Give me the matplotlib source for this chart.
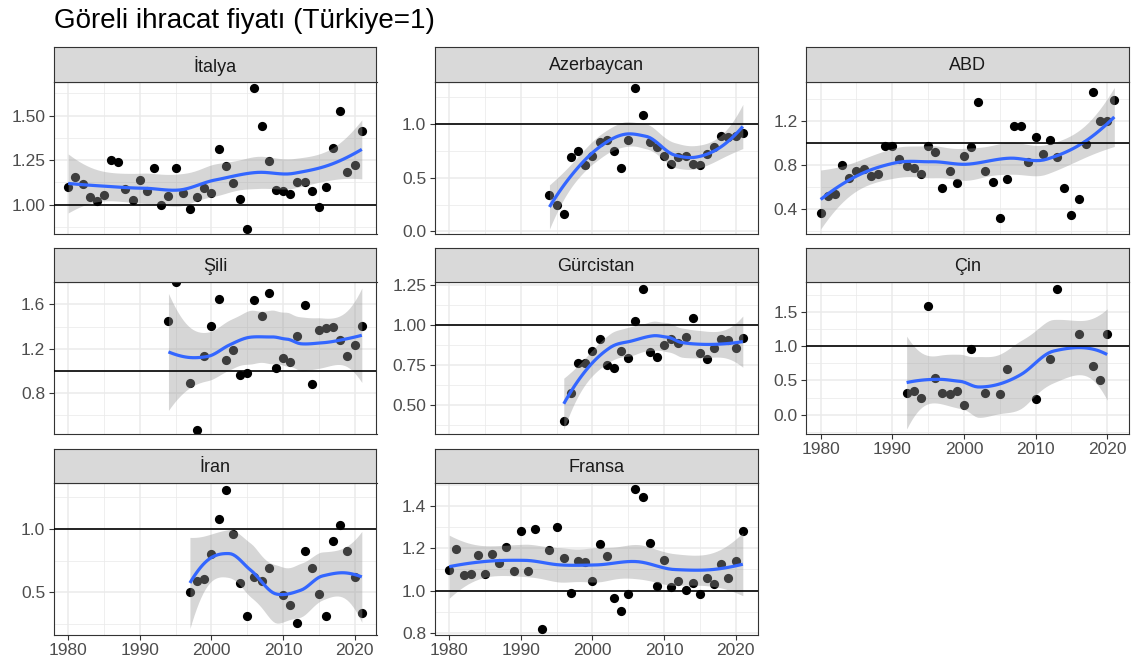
import numpy as np
import matplotlib
matplotlib.use("Agg")
import matplotlib.pyplot as plt

plt.rcParams['font.family'] = ['Liberation Sans', 'DejaVu Sans']

# ---------------- data ----------------
italya_years = list(range(1980, 2022))
italya_vals = [1.10, 1.156, 1.117, 1.043, 1.023, 1.056, 1.252, 1.239, 1.09, 1.026,
               1.139, 1.079, 1.205, 1.00, 1.05, 1.205, 1.066, 0.976, 1.041, 1.094,
               1.068, 1.312, 1.22, 1.12, 1.032, 0.867, 1.656, 1.444, 1.246, 1.083,
               1.079, 1.062, 1.128, 1.128, 1.077, 0.985, 1.10, 1.321, 1.524, 1.186,
               1.224, 1.415]

azerbaycan_years = list(range(1994, 2022))
azerbaycan_vals = [0.338, 0.25, 0.166, 0.69, 0.75, 0.616, 0.703, 0.831, 0.853, 0.75,
                   0.59, 0.847, 1.338, 1.084, 0.828, 0.784, 0.70, 0.625, 0.69, 0.70,
                   0.628, 0.619, 0.722, 0.79, 0.884, 0.878, 0.89, 0.92]

abd_years = list(range(1980, 2022))
abd_vals = [0.357, 0.516, 0.538, 0.795, 0.679, 0.743, 0.765, 0.70, 0.719, 0.967,
            0.97, 0.85, 0.786, 0.771, 0.713, 0.97, 0.912, 0.587, 0.74, 0.636,
            0.884, 0.964, 1.369, 0.74, 0.645, 0.32, 0.673, 1.154, 1.154, 0.823,
            1.056, 0.90, 1.022, 0.875, 0.593, 0.345, 0.486, 0.99, 1.46, 1.194,
            1.197, 1.39]

# 1995 value is infinite: drawn on the panel edge, ignored by the smoother
sili_years = [1994, 1995, 1997, 1998, 1999, 2000, 2001, 2002, 2003, 2004, 2005,
              2006, 2007, 2008, 2009, 2010, 2011, 2012, 2013, 2014, 2015, 2016,
              2017, 2018, 2019, 2020, 2021]
sili_vals = [1.448, np.inf, 0.891, 0.468, 1.13, 1.402, 1.652, 1.095, 1.189, 0.961,
             0.976, 1.64, 1.494, 1.703, 1.028, 1.113, 1.077, 1.311, 1.597, 0.876,
             1.366, 1.39, 1.393, 1.278, 1.135, 1.232, 1.402]

gurcistan_years = list(range(1996, 2022))
gurcistan_vals = [0.402, 0.575, 0.761, 0.761, 0.834, 0.912, 0.749, 0.73, 0.834, 0.795,
                  1.024, 1.225, 0.828, 0.797, 0.876, 0.912, 0.886, 0.926, 1.039, 0.822,
                  0.784, 0.853, 0.914, 0.905, 0.855, 0.916]

cin_years = [1992, 1993, 1994, 1995, 1996, 1997, 1998, 1999, 2000, 2001, 2003,
             2005, 2006, 2010, 2012, 2013, 2016, 2018, 2019, 2020]
cin_vals = [0.318, 0.347, 0.249, 1.579, 0.538, 0.318, 0.298, 0.352, 0.147, 0.963,
            0.313, 0.303, 0.66, 0.235, 0.811, 1.838, 1.183, 0.714, 0.499, 1.183]

iran_years = [1997, 1998, 1999, 2000, 2001, 2002, 2003, 2004, 2005, 2006, 2007,
              2008, 2010, 2011, 2012, 2013, 2014, 2015, 2016, 2017, 2018, 2019,
              2020, 2021]
iran_vals = [0.50, 0.586, 0.605, 0.798, 1.076, 1.309, 0.958, 0.576, 0.312, 0.62,
             0.589, 0.691, 0.476, 0.403, 0.262, 0.827, 0.688, 0.487, 0.312, 0.903,
             1.031, 0.827, 0.623, 0.34]

fransa_years = list(range(1980, 2022))
fransa_vals = [1.099, 1.194, 1.075, 1.08, 1.166, 1.077, 1.174, 1.128, 1.205, 1.094,
               1.282, 1.092, 1.293, 0.819, 1.193, 1.30, 1.152, 0.989, 1.139, 1.135,
               1.047, 1.218, 1.164, 0.963, 0.905, 0.984, 1.479, 1.443, 1.224, 1.022,
               1.142, 1.018, 1.045, 1.003, 1.037, 0.982, 1.058, 1.029, 1.124, 1.061,
               1.138, 1.282]

title = "Göreli ihracat fiyatı (Türkiye=1)"
x_ticks = [1980, 1990, 2000, 2010, 2020]

# name, years, values, ylim, yticks, fmt, col, row, show x axis
panels = [
    ("İtalya", italya_years, italya_vals, (0.838, 1.69), [1.0, 1.25, 1.5], "%.2f", 0, 0, False),
    ("Azerbaycan", azerbaycan_years, azerbaycan_vals, (-0.022, 1.394), [0.0, 0.5, 1.0], "%.1f", 1, 0, False),
    ("ABD", abd_years, abd_vals, (0.173, 1.556), [0.4, 0.8, 1.2], "%.1f", 2, 0, False),
    ("Şili", sili_years, sili_vals, (0.429, 1.804), [0.8, 1.2, 1.6], "%.1f", 0, 1, False),
    ("Gürcistan", gurcistan_years, gurcistan_vals, (0.32, 1.267), [0.5, 0.75, 1.0, 1.25], "%.2f", 1, 1, False),
    ("Çin", cin_years, cin_vals, (-0.279, 1.935), [0.0, 0.5, 1.0, 1.5], "%.1f", 2, 1, True),
    ("İran", iran_years, iran_vals, (0.165, 1.361), [0.5, 1.0], "%.1f", 0, 2, True),
    ("Fransa", fransa_years, fransa_vals, (0.79, 1.509), [0.8, 1.0, 1.2, 1.4], "%.1f", 1, 2, True),
]


# ---------------- loess (span .75, degree 2, kd-tree interpolation) ----------------
def t_quantile(df, z=1.959963985):
    v = df
    g1 = (z**3 + z) / 4
    g2 = (5 * z**5 + 16 * z**3 + 3 * z) / 96
    g3 = (3 * z**7 + 19 * z**5 + 17 * z**3 - 15 * z) / 384
    g4 = (79 * z**9 + 776 * z**7 + 1482 * z**5 - 1920 * z**3 - 945 * z) / 92160
    return z + g1 / v + g2 / v**2 + g3 / v**3 + g4 / v**4


def loess(x, y, xs, span=0.75, cell=0.2):
    x = np.asarray(x, float)
    y = np.asarray(y, float)
    n = len(x)
    q = int(np.floor(n * span))

    def local(x0):
        d = np.abs(x - x0)
        h = np.sort(d)[q - 1]
        w = np.clip(1 - (d / h) ** 3, 0, None) ** 3
        dx = x - x0
        X = np.column_stack([np.ones(n), dx, dx**2])
        XtW = X.T * w
        B = np.linalg.solve(XtW @ X, XtW)
        return B[0], B[1]

    xmin, xmax = x.min(), x.max()
    mu = 0.005 * (xmax - xmin)
    lo_b, hi_b = xmin - mu, xmax + mu
    verts = {lo_b, hi_b}
    fc = int(np.floor(n * span * cell))

    def split(pts, a, b):
        k = len(pts)
        if k <= fc:
            return
        m = (1 + k) // 2
        sv = 0.5 * (pts[m - 1] + pts[m])
        if sv <= a or sv >= b:
            return
        verts.add(sv)
        split(pts[:m], a, sv)
        split(pts[m:], sv, b)

    split(np.sort(x), lo_b, hi_b)
    V = np.array(sorted(verts))
    L0, L1 = zip(*[local(v) for v in V])
    L0 = np.array(L0)
    L1 = np.array(L1)

    def lrow(x0):
        j = int(np.clip(np.searchsorted(V, x0, side="right") - 1, 0, len(V) - 2))
        v0, v1 = V[j], V[j + 1]
        h = v1 - v0
        u = (x0 - v0) / h
        phi0 = (1 - u) ** 2 * (1 + 2 * u)
        phi1 = u**2 * (3 - 2 * u)
        psi0 = u * (1 - u) ** 2
        psi1 = -(u**2) * (1 - u)
        return phi0 * L0[j] + phi1 * L0[j + 1] + h * (psi0 * L1[j] + psi1 * L1[j + 1])

    Lfit = np.array([lrow(v) for v in x])
    Lpred = np.array([lrow(v) for v in xs])
    yhat = Lpred @ y
    R = np.eye(n) - Lfit
    M = R.T @ R
    d1 = np.trace(M)
    d2 = np.trace(M @ M)
    res = y - Lfit @ y
    s = np.sqrt(np.sum(res**2) / d1)
    se = s * np.sqrt(np.sum(Lpred**2, axis=1))
    t = t_quantile(d1**2 / d2)
    return yhat, yhat - t * se, yhat + t * se


# ---------------- layout ----------------
W, H = 1136, 666
fig = plt.figure(figsize=(W / 100, H / 100), dpi=100)

col_left = [53.5, 434.5, 806.0]
panel_w = 323.0
strip_top = [47.3, 247.5, 448.5]
strip_h = 34.4
panel_h = 152.0

XLIM = (1977.95, 2023.05)
grid_c = "#EBEBEB"
border_c = "#333333"

for name, yrs, vals, ylim, yt, fmt, c, r, showx in panels:
    left = col_left[c]
    stop = strip_top[r]
    ptop = stop + strip_h
    ax = fig.add_axes([left / W, 1 - (ptop + panel_h) / H, panel_w / W, panel_h / H])
    sax = fig.add_axes([left / W, 1 - ptop / H, panel_w / W, strip_h / H])

    # strip
    sax.set_facecolor("#D9D9D9")
    sax.set_xticks([])
    sax.set_yticks([])
    for sp in sax.spines.values():
        sp.set_color(border_c)
        sp.set_linewidth(0.8)
    sax.text(0.5, 0.46, name, transform=sax.transAxes, ha="center", va="center",
             fontsize=13, color="#1A1A1A")

    # panel
    ax.set_xlim(*XLIM)
    ax.set_ylim(*ylim)
    ax.set_xticks(x_ticks)
    ax.set_xticks([1985, 1995, 2005, 2015], minor=True)
    step = yt[1] - yt[0]
    ymin = [v for v in np.arange(yt[0] - step / 2, yt[-1] + step, step) if ylim[0] <= v <= ylim[1]]
    ax.set_yticks(yt)
    ax.set_yticks(ymin, minor=True)
    ax.yaxis.set_major_formatter(matplotlib.ticker.FormatStrFormatter(fmt))
    ax.grid(which="major", color=grid_c, linewidth=1.1, zorder=0)
    ax.grid(which="minor", color=grid_c, linewidth=0.55, zorder=0)
    ax.set_axisbelow(True)
    ax.tick_params(which="minor", length=0)
    ax.tick_params(which="major", length=3.5, width=0.8, color=border_c,
                   labelsize=12.5, labelcolor="#4D4D4D", pad=2.5)
    if not showx:
        ax.tick_params(axis="x", which="both", length=0, labelbottom=False)
    for sp in ax.spines.values():
        sp.set_color(border_c)
        sp.set_linewidth(0.8)

    yrs_a = np.asarray(yrs, float)
    vals_a = np.asarray(vals, float)
    fin = np.isfinite(vals_a)
    ax.scatter(yrs_a[fin], vals_a[fin], s=44, color="black", linewidths=0, zorder=2)
    if (~fin).any():
        edge = np.where(vals_a[~fin] > 0, 1.0, 0.0)
        ax.scatter(yrs_a[~fin], edge, s=44, color="black", linewidths=0, zorder=2,
                   transform=ax.get_xaxis_transform())
    xf, yf = yrs_a[fin], vals_a[fin]
    xs = np.linspace(xf.min(), xf.max(), 80)
    fit, lo, hi = loess(xf, yf, xs)
    ax.fill_between(xs, lo, hi, color="#999999", alpha=0.4, linewidth=0, zorder=3)
    ax.plot(xs, fit, color="#3366FF", linewidth=2.3, zorder=4, solid_capstyle="butt")
    ax.axhline(1.0, color="black", linewidth=1.2, zorder=5)

fig.text(53.5 / W, 1 - 21 / H, title, ha="left", va="center", fontsize=20, color="black")

fig.savefig("out.png", dpi=100, facecolor="white")
